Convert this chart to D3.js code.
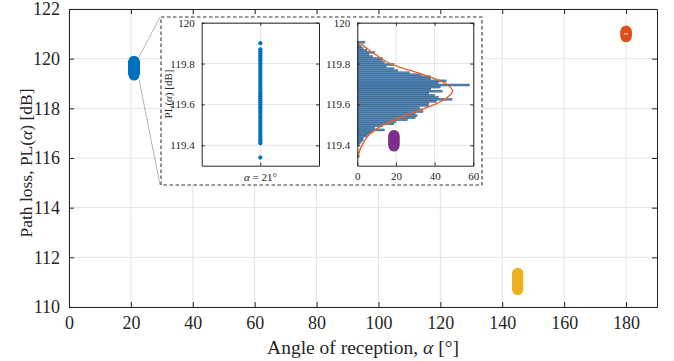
<!DOCTYPE html>
<html><head><meta charset="utf-8">
<script src="https://cdn.jsdelivr.net/npm/d3@7"></script>
<style>body{margin:0;background:#fff}svg{display:block}text{font-family:"Liberation Serif",serif}</style>
</head><body><svg id="c" width="674" height="361" font-family="Liberation Serif, serif"></svg>
<script>
// ---------- data ----------
const xTicks = [0,20,40,60,80,100,120,140,160,180];
const yTicks = [110,112,114,116,118,120,122];
const angles = [21, 105, 145, 180];
const colors = ["#0072BD", "#7E2F8E", "#EDB120", "#D95319"];
const pl21 = [119.34,119.41,119.42,119.43,119.44,119.45,119.46,119.47,119.48,119.49,119.50,119.51,119.52,119.53,119.54,119.55,119.56,119.57,119.58,119.59,119.60,119.61,119.62,119.63,119.64,119.65,119.66,119.67,119.68,119.69,119.70,119.71,119.72,119.73,119.74,119.75,119.76,119.77,119.78,119.79,119.80,119.81,119.82,119.83,119.84,119.85,119.86,119.87,119.90];
const pl105 = [116.48,116.52,116.56,116.60,116.64,116.68,116.72,116.76,116.80,116.84,116.88,116.91];
const pl145 = [110.70,110.74,110.78,110.82,110.86,110.90,110.94,110.98,111.02,111.06,111.10,111.14,111.18,111.22,111.26,111.30,111.33,111.36];
const pl180 = [120.88,120.91,120.94,120.97,121.00,121.03,121.06,121.09,121.11];
const insetYTicks = [119.4,119.6,119.8,120];
const histXTicks = [0,20,40,60];
const binCenters = [119.345,119.355,119.365,119.375,119.385,119.395,119.405,119.415,119.425,119.435,119.445,119.455,119.465,119.475,119.485,119.495,119.505,119.515,119.525,119.535,119.545,119.555,119.565,119.575,119.585,119.595,119.605,119.615,119.625,119.635,119.645,119.655,119.665,119.675,119.685,119.695,119.705,119.715,119.725,119.735,119.745,119.755,119.765,119.775,119.785,119.795,119.805,119.815,119.825,119.835,119.845,119.855,119.865,119.875,119.885,119.895,119.905];
const binCounts = [1,0,0,0,0,0,1,2,3,3,5,6,8,14,9,13,19,20,26,30,31,30,34,33,32,37,37,41,49,42,40,37,44,38,43,58,42,46,38,38,33,27,21,19,15,19,14,13,13,8,6,9,5,3,2,1,4];
const fitPL = [119.340,119.370,119.400,119.440,119.480,119.520,119.560,119.600,119.630,119.666,119.700,119.740,119.770,119.800,119.840,119.870,119.905];
const fitCount = [0.3,1,2.5,5,10,18,29,40,46,49.3,46,36,26,17,10,5.5,1];
const binWidth = 0.01;

// ---------- layout ----------
const FONT = "Liberation Serif, serif";
const svg = d3.select("#c");
const axisCol = "#262626", gridCol = "#e3e3e3";
const x = d3.scaleLinear([0,190],[69,657]);
const y = d3.scaleLinear([110,122],[307,9]);

// grid
const g = svg.append("g");
g.selectAll(".gx").data(xTicks).join("line").attr("x1",d=>x(d)).attr("x2",d=>x(d)).attr("y1",9).attr("y2",307).attr("stroke",gridCol);
g.selectAll(".gy").data(yTicks).join("line").attr("y1",d=>y(d)).attr("y2",d=>y(d)).attr("x1",69).attr("x2",657).attr("stroke",gridCol);

// axes (box + inward ticks)
function boxAxes(sel, xs, ys, xt, yt, tl, fs, xfmt, yfmt, xLabels=true){
  const [x0,x1]=xs.range(), [y0,y1]=ys.range();
  const ax = sel.append("g");
  const parts = [
    ax.append("g").attr("transform",`translate(0,${y0})`).call(d3.axisBottom(xs).tickValues(xt).tickSizeInner(-tl).tickSizeOuter(0).tickPadding(tl+4).tickFormat(xLabels?xfmt:()=>"")),
    ax.append("g").attr("transform",`translate(0,${y1})`).call(d3.axisTop(xs).tickValues(xt).tickSizeInner(-tl).tickSizeOuter(0).tickFormat("")),
    ax.append("g").attr("transform",`translate(${x0},0)`).call(d3.axisLeft(ys).tickValues(yt).tickSizeInner(-tl).tickSizeOuter(0).tickPadding(tl+4).tickFormat(yfmt)),
    ax.append("g").attr("transform",`translate(${x1},0)`).call(d3.axisRight(ys).tickValues(yt).tickSizeInner(-tl).tickSizeOuter(0).tickFormat(""))
  ];
  parts.forEach(p=>p.attr("font-family",FONT).attr("font-size",fs));
  ax.selectAll(".domain").attr("stroke",axisCol);
  ax.selectAll(".tick line").attr("stroke",axisCol);
  ax.selectAll("text").attr("fill",axisCol).attr("font-family",FONT).attr("font-size",fs);
  return ax;
}

// connector lines from blue data to inset box
svg.append("line").attr("x1",x(21)+5).attr("y1",y(119.9)-4).attr("x2",160).attr("y2",17).attr("stroke","#b5b5b5");
svg.append("line").attr("x1",x(21)+5).attr("y1",y(119.34)+4).attr("x2",160).attr("y2",185).attr("stroke","#b5b5b5");

// main series
const series = [pl21, pl105, pl145, pl180];
const main = svg.append("g");
[0,2,3].forEach(i=>{
  main.append("g").selectAll("circle").data(series[i]).join("circle")
    .attr("cx",x(angles[i])).attr("cy",d=>y(d)).attr("r",5.5).attr("fill",colors[i]);
});
main.append("line").attr("x1",x(180)-2).attr("x2",x(180)+2).attr("y1",y(121.0)).attr("y2",y(121.0)).attr("stroke","#f6c9b5").attr("stroke-width",1.2);

boxAxes(svg, x, y, xTicks, yTicks, 5, 18, d3.format("d"), d3.format("d"));

// axis titles
svg.append("text").attr("x",363).attr("y",354).attr("text-anchor","middle").attr("fill",axisCol).attr("font-family",FONT).attr("font-size",19.5)
  .html('Angle of reception, <tspan font-style="italic">α</tspan> [°]');
svg.append("text").attr("transform","translate(32,163) rotate(-90)").attr("text-anchor","middle").attr("fill",axisCol).attr("font-family",FONT).attr("font-size",17.5)
  .html('Path loss, PL(<tspan font-style="italic">α</tspan>) [dB]');

// inset box
svg.append("rect").attr("x",161).attr("y",17).attr("width",321).attr("height",168).attr("fill","#fff").attr("stroke","#333").attr("stroke-width",1.1).attr("stroke-dasharray","3.5,2.5");

const iy = d3.scaleLinear([119.3,120],[165.7,22.7]);
// left inset
const lx = d3.scaleLinear([20,22],[201.7,319]);
const L = svg.append("g");
L.selectAll(".g").data(insetYTicks).join("line").attr("x1",201.7).attr("x2",319).attr("y1",d=>iy(d)).attr("y2",d=>iy(d)).attr("stroke",gridCol);
L.append("line").attr("x1",lx(21)).attr("x2",lx(21)).attr("y1",22.7).attr("y2",165.7).attr("stroke",gridCol);
L.selectAll("circle").data(pl21).join("circle").attr("cx",lx(21)).attr("cy",d=>iy(d)).attr("r",2.1).attr("fill",colors[0]);
boxAxes(L, lx, iy, [21], insetYTicks, 3, 11, ()=>"", d3.format(".1f"), false);
L.selectAll("text").filter(function(){return this.textContent==="120.0";}).text("120");
L.append("text").attr("x",lx(21)).attr("y",181).attr("text-anchor","middle").attr("fill",axisCol).attr("font-family",FONT).attr("font-size",11)
  .html('<tspan font-style="italic">α</tspan> = 21°');
L.append("text").attr("transform","translate(172,94) rotate(-90)").attr("text-anchor","middle").attr("fill",axisCol).attr("font-family",FONT).attr("font-size",11)
  .html('PL(<tspan font-style="italic">α</tspan>) [dB]');

// right inset: histogram
const hx = d3.scaleLinear([0,60],[357.3,473.3]);
const R = svg.append("g");
R.selectAll(".g").data(insetYTicks).join("line").attr("x1",357.3).attr("x2",473.3).attr("y1",d=>iy(d)).attr("y2",d=>iy(d)).attr("stroke",gridCol);
R.selectAll(".gv").data(histXTicks).join("line").attr("x1",d=>hx(d)).attr("x2",d=>hx(d)).attr("y1",22.7).attr("y2",165.7).attr("stroke",gridCol);
R.selectAll("rect").data(binCenters.map((c,i)=>({c,n:binCounts[i]})).filter(d=>d.n>0)).join("rect")
  .attr("x",hx(0)).attr("y",d=>iy(d.c+binWidth/2)).attr("width",d=>hx(d.n)-hx(0)).attr("height",d=>iy(d.c-binWidth/2)-iy(d.c+binWidth/2))
  .attr("fill","#4f88bd").attr("stroke","#22354a").attr("stroke-width",0.3);
R.append("path").datum(fitPL.map((p,i)=>[fitCount[i],p])).attr("fill","none").attr("stroke","#E8622A").attr("stroke-width",1.4)
  .attr("d",d3.line().x(d=>hx(d[0])).y(d=>iy(d[1])).curve(d3.curveCatmullRom));
boxAxes(R, hx, iy, histXTicks, insetYTicks, 3, 11, d3.format("d"), d3.format(".1f"));
R.selectAll("text").filter(function(){return this.textContent==="120.0";}).text("120");

// purple series drawn on top
svg.append("g").selectAll("circle").data(pl105).join("circle")
  .attr("cx",x(angles[1])).attr("cy",d=>y(d)).attr("r",5.5).attr("fill",colors[1]);
</script></body></html>
